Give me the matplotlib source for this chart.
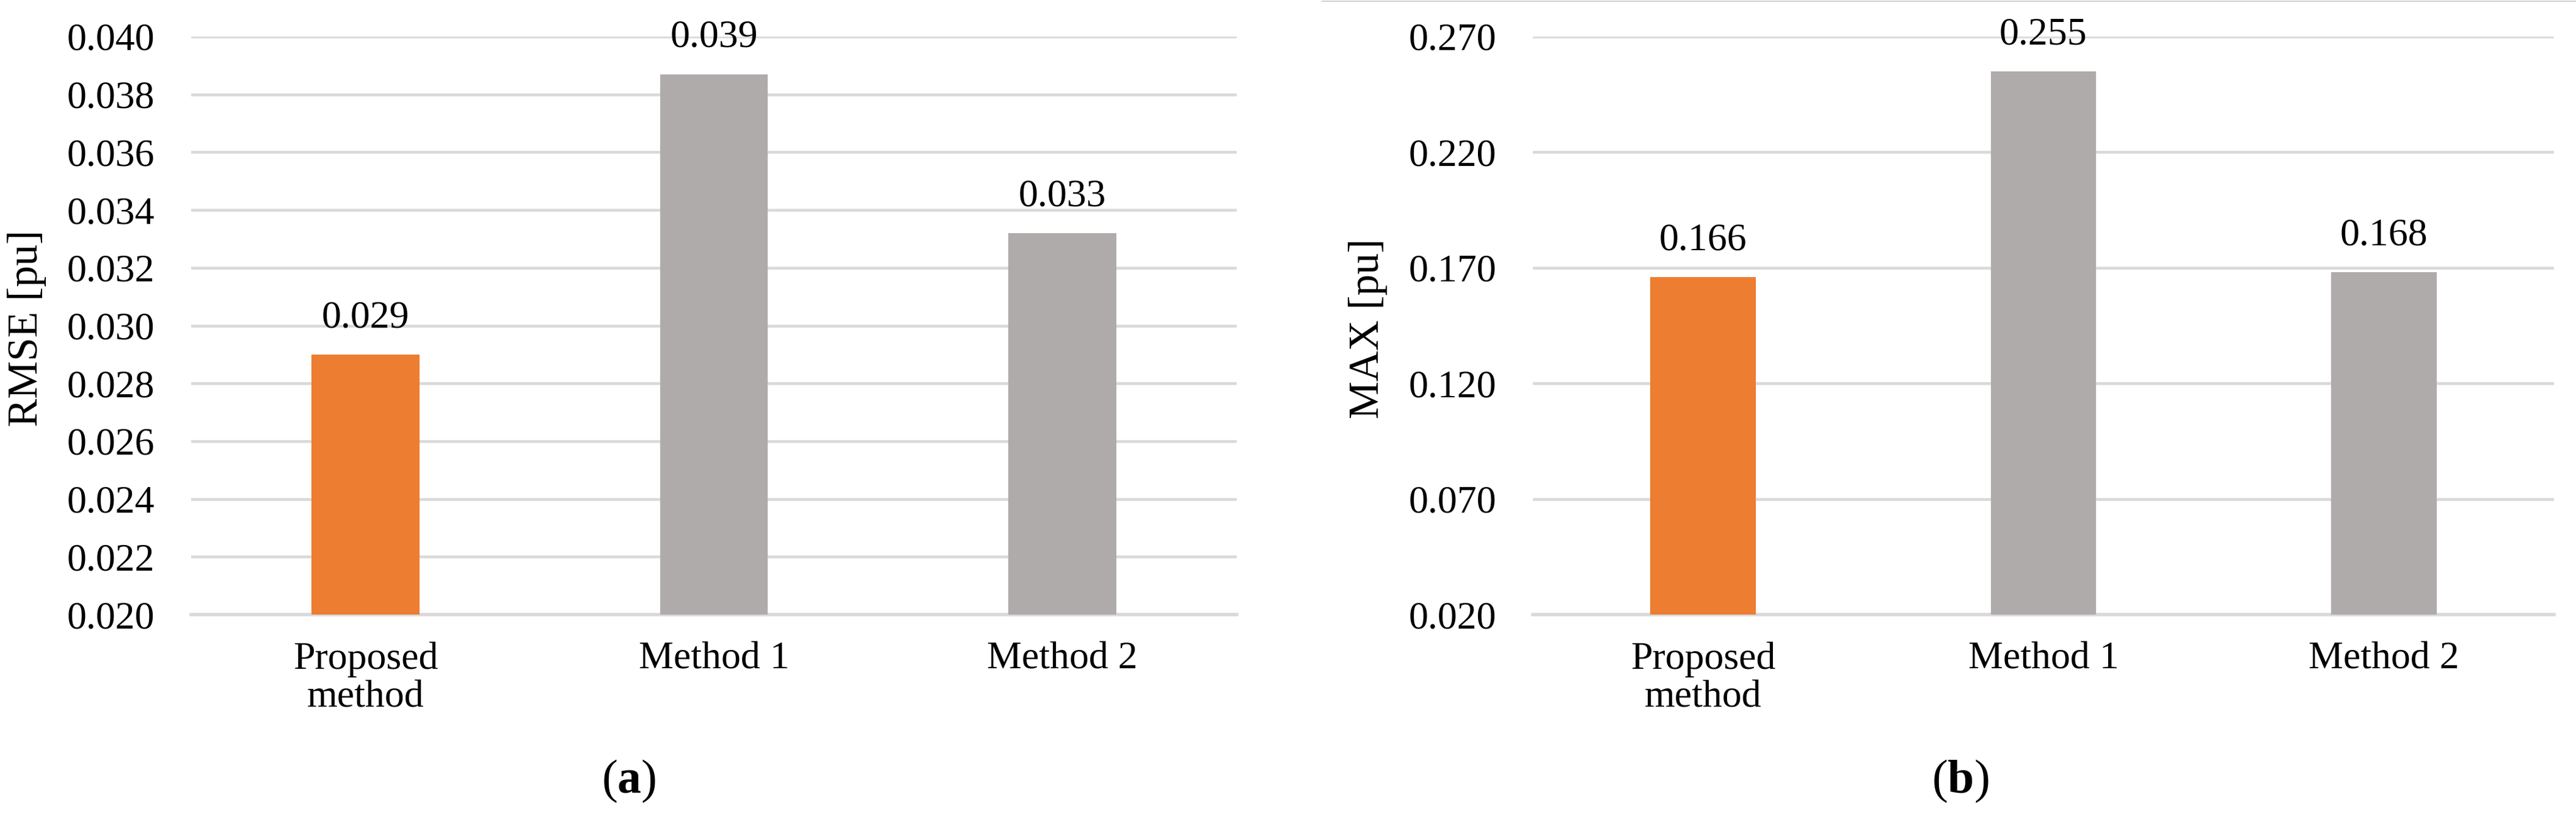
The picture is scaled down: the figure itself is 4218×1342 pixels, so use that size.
import matplotlib
matplotlib.use("Agg")
import matplotlib.pyplot as plt
import numpy as np
from matplotlib.lines import Line2D

plt.rcParams['font.family'] = ['Liberation Serif', 'DejaVu Serif']
plt.rcParams['mathtext.fontset'] = 'custom'
plt.rcParams['mathtext.rm'] = 'Liberation Serif'
plt.rcParams['mathtext.bf'] = 'Liberation Serif:bold'

categories = ["Proposed\nmethod", "Method 1", "Method 2"]
rmse_values = [0.0290, 0.0387, 0.0332]
max_values = [0.166, 0.255, 0.168]
rmse_ticks = [0.020, 0.022, 0.024, 0.026, 0.028, 0.030, 0.032, 0.034, 0.036, 0.038, 0.040]
max_ticks = [0.020, 0.070, 0.120, 0.170, 0.220, 0.270]
bar_colors = ["#ED7D31", "#AFABAB", "#AFABAB"]
panel_letters = ["a", "b"]
ylabels = ["RMSE [pu]", "MAX [pu]"]

W, H = 4218, 1342
fig = plt.figure(figsize=(W / 100, H / 100), dpi=100)

FS = 46
grid_c = "#D9D9D9"

axes_specs = [
    (313, 2025, rmse_values, rmse_ticks, 44, 1030),
    (2510, 4182, max_values, max_ticks, 2240, 3210),
]
top_px, bot_px = 60, 1007

for i, (x0, x1, vals, ticks, ylab_x, plab_x) in enumerate(axes_specs):
    ax = fig.add_axes([x0 / W, 1 - bot_px / H, (x1 - x0) / W, (bot_px - top_px) / H])
    x = np.arange(len(categories))
    bars = ax.bar(x, vals, width=0.31, color=bar_colors, edgecolor="none", zorder=3)
    ax.set_xlim(-0.5, len(categories) - 0.5)
    ax.set_ylim(ticks[0], ticks[-1])
    ax.set_yticks(ticks)
    ax.set_yticklabels([f"{t:.3f}" for t in ticks])
    ax.set_xticks(x)
    ax.set_xticklabels(categories, linespacing=1.1)
    ax.tick_params(axis="y", length=0, pad=43, labelsize=FS)
    ax.tick_params(axis="x", length=0, pad=32, labelsize=FS)
    for s in ["top", "right", "left"]:
        ax.spines[s].set_visible(False)
    ax.spines["bottom"].set_color(grid_c)
    ax.spines["bottom"].set_linewidth(4)
    ax.spines["bottom"].set_zorder(2)
    ax.yaxis.grid(True, color=grid_c, linewidth=3.3, zorder=0)
    ax.set_axisbelow(True)
    ax.bar_label(bars, labels=[f"{v:.3f}" for v in vals], padding=22, fontsize=FS)
    fig.text(ylab_x / W, 1 - 538 / H, ylabels[i], rotation=90, ha="center", va="center",
             fontsize=50)
    fig.text(plab_x / W, 1 - 1280 / H, "(" + r"$\mathbf{" + panel_letters[i] + "}$" + ")",
             ha="center", va="center", fontsize=56)

fig.add_artist(Line2D([2165 / W, 1.0], [1 - 1.5 / H, 1 - 1.5 / H], transform=fig.transFigure,
                      color="#D0D0D0", linewidth=1.5))

fig.savefig("out.png", dpi=100, facecolor="white")
